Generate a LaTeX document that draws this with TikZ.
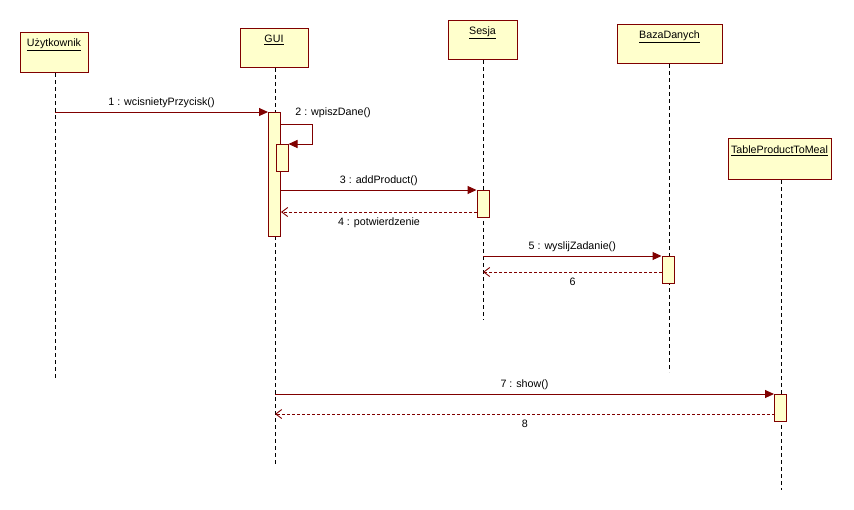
\documentclass[tikz,border=0pt]{standalone}
\usepackage{fontspec}
\setmainfont{Liberation Sans}
\usetikzlibrary{arrows.meta}
\definecolor{umlfill}{HTML}{FFFFCC}
\definecolor{umlline}{HTML}{800000}
\begin{document}
\begin{tikzpicture}[x=1pt,y=-1pt,
  every node/.style={font=\fontsize{10.7}{12}\selectfont, inner sep=0pt, text=black},
  objbox/.style={draw=umlline, fill=umlfill, line width=1pt, anchor=north west},
  objname/.style={anchor=center},
  actbox/.style={draw=umlline, fill=umlfill, line width=1pt, minimum width=12pt, anchor=north},
  life/.style={black, line width=0.9pt, dash pattern=on 4pt off 3pt},
  call/.style={umlline, line width=1pt, -{Triangle[length=9pt,width=8pt]}},
  reply/.style={umlline, line width=0.9pt, dash pattern=on 3pt off 2pt, -{Straight Barb[length=6pt,width=9pt]}},
  msgtop/.style={text height=8pt, text depth=2pt, above=4pt, midway, text=black},
  msgbot/.style={text height=8pt, text depth=2pt, below=5pt, midway, text=black}]
\useasboundingbox[fill=white] (0,0) rectangle (854,509);

% object headers
\node[objbox, minimum width=68pt, minimum height=40pt] (user) at (20,32) {};
\node[objname] (userlbl) at (54,45) {\underline{Użytkownik}};
\node[objbox, minimum width=68pt, minimum height=39pt] (gui) at (240,28) {};
\node[objname] (guilbl) at (274,40) {\underline{GUI}};
\node[objbox, minimum width=69pt, minimum height=39pt] (ses) at (448,20) {};
\node[objname] (seslbl) at (482.5,33) {\underline{Sesja}};
\node[objbox, minimum width=105pt, minimum height=39pt] (baza) at (617,24) {};
\node[objname] (bazalbl) at (669.5,37) {\underline{BazaDanych}};
\node[objbox, minimum width=103pt, minimum height=41pt] (tpm) at (728,138) {};
\node[objname] (tpmlbl) at (779.5,151) {\underline{TableProductToMeal}};

% lifeline ends
\coordinate (userend) at (55,380);
\coordinate (guiend) at (275,466);
\coordinate (sesend) at (483,320);
\coordinate (bazaend) at (669,372);
\coordinate (tpmend) at (781,490);

\draw[life] (user.south -| userend) -- (userend);
\draw[life] (gui.south -| guiend) -- (guiend);
\draw[life] (ses.south -| sesend) -- (sesend);
\draw[life] (baza.south -| bazaend) -- (bazaend);
\draw[life] (tpm.south -| tpmend) -- (tpmend);

% activations
\node[actbox, minimum height=124pt] (guiA) at (274.5,112) {};
\node[actbox, minimum height=27pt] (guiN) at (282,144) {};
\node[actbox, minimum height=27pt] (sesA) at (483,190) {};
\node[actbox, minimum height=27pt] (bazaA) at (668,256) {};
\node[actbox, minimum height=27pt] (tpmA) at (780.5,394) {};

% 1: user -> GUI
\draw[call] (userend |- guiA.north) -- (guiA.north west)
  node[msgtop] (m1) {1 : wcisnietyPrzycisk()};

% 2: self call on GUI
\coordinate (s2a) at (281,124);
\coordinate (s2b) at (312,124);
\coordinate (s2c) at (312,144);
\draw[call] (s2a) -- (s2b) -- (s2c) -- (guiN.north east);
\node (m2) at (333,113) {2 : wpiszDane()};

% 3 / 4: GUI <-> Sesja
\draw[call] (guiA.east |- sesA.north) -- (sesA.north west)
  node[msgtop] (m3) {3 : addProduct()};
\coordinate (r4) at (477,212);
\draw[reply] (r4) -- (guiA.east |- r4)
  node[msgbot] (m4) {4 : potwierdzenie};

% 5 / 6: Sesja <-> BazaDanych
\draw[call] (sesend |- bazaA.north) -- (bazaA.north west)
  node[msgtop] (m5) {5 : wyslijZadanie()};
\coordinate (r6) at (662,272);
\draw[reply] (r6) -- (sesend |- r6)
  node[msgbot] (m6) {6};

% 7 / 8: GUI <-> TableProductToMeal
\draw[call] (guiend |- tpmA.north) -- (tpmA.north west)
  node[msgtop] (m7) {7 : show()};
\coordinate (r8) at (774.5,414);
\draw[reply] (r8) -- (guiend |- r8)
  node[msgbot] (m8) {8};
\end{tikzpicture}
\end{document}
